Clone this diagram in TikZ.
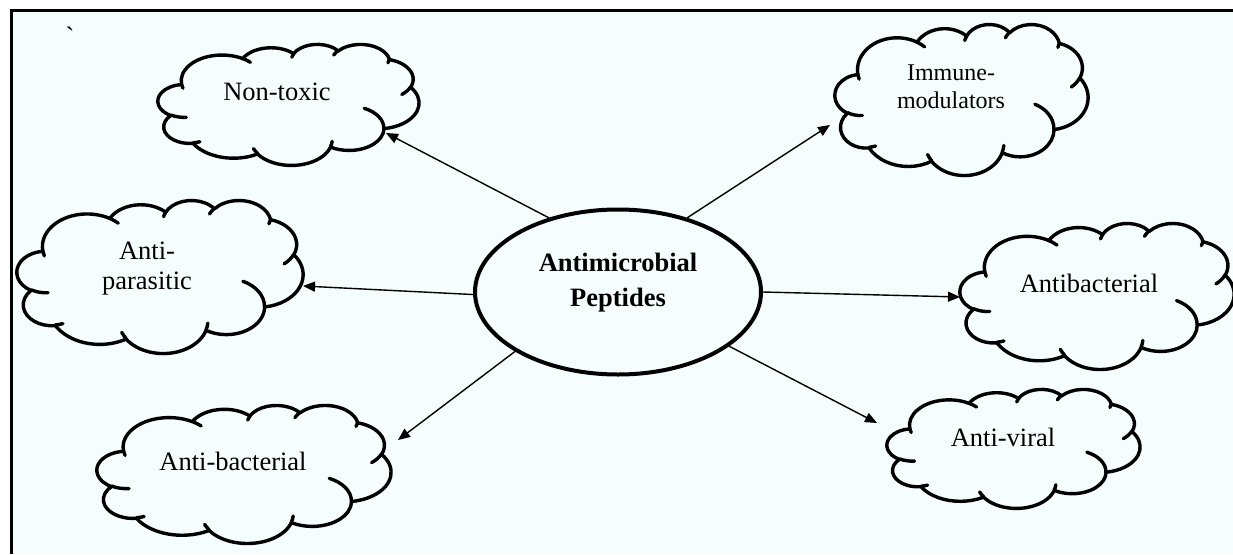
\documentclass[tikz,border=0pt]{standalone}
\usepackage{fontspec}
\setmainfont{Liberation Serif}
\newfontfamily\rawserif{Liberation Serif}
\usetikzlibrary{shapes.geometric,arrows.meta}
\definecolor{bgc}{RGB}{246,253,253}
% one arc of the cloud outline: wR, hR (thousandths of path units), start and swing angle (visual, degrees)
\newcommand\cldarc[4]{arc[x radius={(#1*\cldkx)*1pt}, y radius={(#2*\cldky)*1pt},
  start angle={-atan2(#1*sin(#3),#2*cos(#3))},
  delta angle={-((#4)+mod(atan2(#1*sin((#3)+(#4)),#2*cos((#3)+(#4)))-((#3)+(#4))+900,360)-mod(atan2(#1*sin(#3),#2*cos(#3))-(#3)+900,360))}]}
\tikzset{
  cloudline/.style={line width=3.4pt, line join=round, line cap=round},
  lbl/.style={font=\fontsize{26.5}{30}\selectfont, inner sep=0pt},
  lblsmall/.style={font=\fontsize{24}{28}\selectfont, inner sep=0pt},
  arr/.style={line width=1.4pt, -{Triangle[length=12pt,width=10pt]}},
  pics/cloudshape/.style 2 args={code={
    \pgfmathsetmacro\cldkx{#1/43.2}%
    \pgfmathsetmacro\cldky{#2/43.2}%
    \draw[cloudline] (3.900*\cldkx,14.370*\cldky)
      \cldarc{6.753}{9.190}{-190.4875}{123.7805}
      \cldarc{5.333}{7.267}{-144.1024}{89.9452}
      \cldarc{4.365}{5.945}{-145.8079}{99.7230}
      \cldarc{4.857}{6.595}{-130.9861}{117.2417}
      \cldarc{5.333}{7.273}{-78.7089}{109.0269}
      \cldarc{6.775}{9.220}{-46.2673}{130.2690}
      \cldarc{5.785}{7.867}{0.6250}{114.0333}
      \cldarc{6.752}{9.215}{22.4516}{115.1726}
      \cldarc{7.720}{10.543}{66.2426}{75.7110}
      \cldarc{4.360}{5.918}{-274.9421}{146.7356}
      \cldarc{4.345}{5.945}{-246.8285}{152.5189}
      -- cycle;
    \draw[cloudline]
      (4.693*\cldkx,26.177*\cldky) \cldarc{4.345}{5.945}{86.7420}{26.4295}
      (6.928*\cldkx,34.899*\cldky) \cldarc{4.360}{5.918}{73.6105}{11.4475}
      (16.478*\cldkx,39.090*\cldky) \cldarc{6.752}{9.215}{137.6242}{14.0811}
      (28.827*\cldkx,34.751*\cldky) \cldarc{6.752}{9.215}{6.4533}{15.9984}
      (34.129*\cldkx,22.954*\cldky) \cldarc{5.785}{7.867}{-70.2924}{70.9174}
      (41.798*\cldkx,15.354*\cldky) \cldarc{5.333}{7.273}{30.3180}{27.7515}
      (38.324*\cldkx,5.426*\cldky) \cldarc{4.857}{6.595}{13.7443}{14.8589}
      (29.078*\cldkx,3.952*\cldky) \cldarc{4.857}{6.595}{-149.1815}{18.1954}
      (22.141*\cldkx,4.720*\cldky) \cldarc{4.365}{5.945}{-163.4943}{17.6864}
      (14.000*\cldkx,5.192*\cldky) \cldarc{6.753}{9.190}{-66.7070}{12.3194}
      (4.127*\cldkx,15.789*\cldky) \cldarc{6.753}{9.190}{157.6544}{11.8582};
  }}
}
\begin{document}
\begin{tikzpicture}[x=1pt,y=-1pt]
\useasboundingbox (0,0) rectangle (1233,554);
\fill[white] (0,0) rectangle (1233,554);
\fill[bgc] (11.5,10.5) rectangle (1233,554);
\draw[line width=3pt] (11.5,554) -- (11.5,10.5) -- (1233,10.5);

% small mark
\node[font=\rawserif\fontsize{26.5}{30}\selectfont, inner sep=0pt, anchor=base] (mark) at (70,45) {\char"0060};

% clouds
\pic at (158,44) {cloudshape={261}{121}};
\pic at (835,24) {cloudshape={253}{151}};
\pic at (17,200) {cloudshape={286}{153}};
\pic at (960,223) {cloudshape={274}{146}};
\pic at (97,405) {cloudshape={294}{138}};
\pic at (887,389) {cloudshape={253}{119}};

% labels
\node[lbl, anchor=base] (nontoxic) at (277,100) {Non-toxic};
\node[lblsmall, align=center] (immune) at (951,87) {Immune-\\modulators};
\node[lbl, align=center] (antipara) at (147,269) {Anti-\\parasitic};
\node[lbl, anchor=base] (antibact) at (1089,292) {Antibacterial};
\node[lbl, anchor=base] (antibact2) at (233,470) {Anti-bacterial};
\node[lbl, anchor=base] (antiviral) at (1003,446) {Anti-viral};

% centre
\node[draw, ellipse, line width=4pt, minimum width=286pt, minimum height=165pt, inner sep=0pt] (amp) at (618,292) {};
\node[font=\fontsize{26.5}{35}\selectfont\bfseries, align=center, inner sep=0pt] (amptext) at (618,283) {Antimicrobial\\Peptides};

% arrow tips
\coordinate (tipNT) at (386,133);
\coordinate (tipIM) at (830,125);
\coordinate (tipAP) at (303,286);
\coordinate (tipAB) at (960,297);
\coordinate (tipAB2) at (398,440);
\coordinate (tipAV) at (877,423);

\draw[arr] (amp.133) -- (tipNT);
\draw[arr] (amp.47) -- (tipIM);
\draw[arr] (amp.181) -- (tipAP);
\draw[arr] (amp.0.8) -- (tipAB);
\draw[arr] (amp.210) -- (tipAB2);
\draw[arr] (amp.-26) -- (tipAV);
\end{tikzpicture}
\end{document}
